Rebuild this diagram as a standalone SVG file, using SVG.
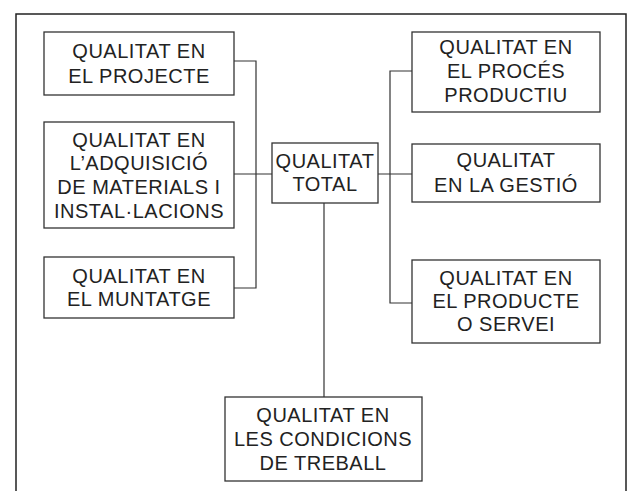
<svg xmlns="http://www.w3.org/2000/svg" width="628" height="491" viewBox="0 0 628 491">
<style>
.box{fill:#fff;stroke:#333;stroke-width:1.3}
.frame{fill:none;stroke:#222;stroke-width:1.5}
.conn{fill:none;stroke:#333;stroke-width:1.2}
text{font-family:"Liberation Sans",Arial,sans-serif;font-size:20px;fill:#222;text-anchor:middle;letter-spacing:0.5px}
</style>
<rect width="628" height="491" fill="#fff"/>
<path class="frame" d="M16,491 V14 H626 V491"/>
<g id="connectors">
<path class="conn" d="M234,61 H256 V288 H234"/>
<path class="conn" d="M234,174 H272"/>
<path class="conn" d="M378,174 H412"/>
<path class="conn" d="M412,71 H390 V303 H412"/>
<path class="conn" d="M324,203 V397"/>
</g>
<g id="projecte">
<rect class="box" x="44" y="32" width="190" height="63"/>
<text x="139" y="58">QUALITAT EN</text>
<text x="139" y="83">EL PROJECTE</text>
</g>
<g id="adquisicio">
<rect class="box" x="44" y="122" width="190" height="106"/>
<text x="139" y="147">QUALITAT EN</text>
<text x="139" y="170">L’ADQUISICIÓ</text>
<text x="139" y="194">DE MATERIALS I</text>
<text x="139" y="218">INSTAL·LACIONS</text>
</g>
<g id="muntatge">
<rect class="box" x="44" y="257" width="190" height="61"/>
<text x="139" y="283">QUALITAT EN</text>
<text x="139" y="306">EL MUNTATGE</text>
</g>
<g id="total">
<rect class="box" x="272" y="143" width="106" height="60"/>
<text x="325" y="168">QUALITAT</text>
<text x="325" y="191">TOTAL</text>
</g>
<g id="proces">
<rect class="box" x="412" y="32" width="188" height="80"/>
<text x="506" y="54">QUALITAT EN</text>
<text x="506" y="78">EL PROCÉS</text>
<text x="506" y="102">PRODUCTIU</text>
</g>
<g id="gestio">
<rect class="box" x="412" y="144" width="188" height="58"/>
<text x="506" y="167">QUALITAT</text>
<text x="506" y="192">EN LA GESTIÓ</text>
</g>
<g id="producte">
<rect class="box" x="412" y="260" width="188" height="83"/>
<text x="506" y="285">QUALITAT EN</text>
<text x="506" y="308">EL PRODUCTE</text>
<text x="506" y="331">O SERVEI</text>
</g>
<g id="condicions">
<rect class="box" x="225" y="397" width="197" height="84"/>
<text x="323" y="422">QUALITAT EN</text>
<text x="323" y="446">LES CONDICIONS</text>
<text x="323" y="470">DE TREBALL</text>
</g>
</svg>
